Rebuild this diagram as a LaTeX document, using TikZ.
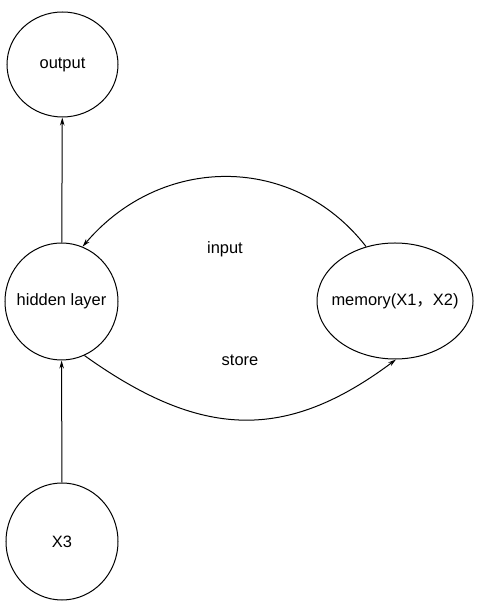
\documentclass[tikz,border=0pt]{standalone}
\usepackage{fontspec}
\setmainfont{Liberation Sans}
\newfontfamily\cjk{Noto Sans CJK SC}
\usetikzlibrary{shapes.geometric,arrows.meta}

\tikzset{
    unit/.style={draw, ellipse, line width=1bp, inner ysep=0pt, inner xsep=-15bp},
    link/.style={->, line width=1bp},
    >={Stealth[length=8bp,width=4.5bp]}
}

\begin{document}
\begin{tikzpicture}[x=1bp, y=1bp, font=\fontsize{16.5}{20}\selectfont]
    \useasboundingbox (0,0) rectangle (483,610);
    % Units
    \node[unit, minimum width=111bp, minimum height=105bp] (out) at (62.5,545.5) {output};
    \node[unit, minimum width=113bp, minimum height=117bp] (hid) at (61.5,308.5) {hidden layer};
    \node[unit, minimum width=112bp, minimum height=117bp] (x3) at (62,68.5) {X3};
    \node[unit, minimum width=156bp, minimum height=116bp] (mem) at (395,309) {memory(X1{\cjk ，}X2)};
    % Vertical links
    \draw[link] (x3) -- (hid);
    \draw[link] (hid) -- (out);
    % Loop through memory
    \draw[link] (mem.118) .. controls +(-72,93) and +(79,93) .. (hid.69);
    \draw[link] (hid.-67) .. controls +(116,-83) and +(-111,-83) .. (mem.-89);
    \node (lin) at (225,361) {input};
    \node (lst) at (240,250) {store};
\end{tikzpicture}
\end{document}
